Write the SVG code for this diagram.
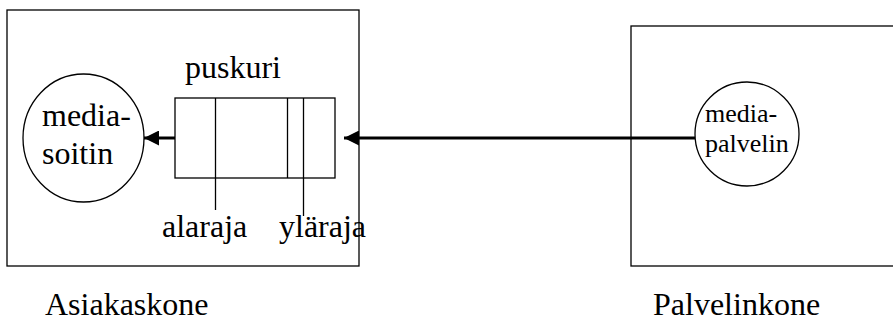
<svg xmlns="http://www.w3.org/2000/svg" width="893" height="321" viewBox="0 0 893 321">
  <style>
    .box { fill: none; stroke: #000; stroke-width: 1.3; }
    .thin { fill: none; stroke: #000; stroke-width: 1.3; }
    .flow { fill: none; stroke: #000; stroke-width: 3; }
    text { font-family: "Liberation Serif", "Times New Roman", serif; fill: #000; }
    .big { font-size: 32px; }
    .small { font-size: 26px; }
  </style>
  <defs>
    <marker id="head" viewBox="0 0 10 10" refX="10" refY="5" markerWidth="6" markerHeight="5" markerUnits="strokeWidth" orient="auto">
      <path d="M0,0 L10,5 L0,10 Z" fill="#000"/>
    </marker>
  </defs>
  <rect width="893" height="321" fill="#fff"/>

  <!-- client machine -->
  <g id="asiakaskone">
    <rect class="box" x="7" y="10" width="352" height="256"/>
    <text class="big" x="45" y="315">Asiakaskone</text>
  </g>

  <!-- server machine -->
  <g id="palvelinkone">
    <rect class="box" x="631" y="26" width="280" height="240"/>
    <text class="big" x="653" y="315">Palvelinkone</text>
  </g>

  <!-- media player -->
  <g id="mediasoitin">
    <ellipse class="thin" cx="83.5" cy="138" rx="60.5" ry="64"/>
    <text class="big" x="42" y="126">media-</text>
    <text class="big" x="42" y="164">soitin</text>
  </g>

  <!-- buffer with low / high watermarks -->
  <g id="puskuri">
    <text class="big" x="185" y="78">puskuri</text>
    <rect class="thin" x="175" y="98" width="160" height="80"/>
    <line class="thin" x1="215.5" y1="98" x2="215.5" y2="210"/>
    <line class="thin" x1="287.5" y1="98" x2="287.5" y2="178"/>
    <line class="thin" x1="303.5" y1="98" x2="303.5" y2="216"/>
    <text class="big" x="162" y="237">alaraja</text>
    <text class="big" x="279" y="237">yläraja</text>
  </g>

  <!-- media server -->
  <g id="mediapalvelin">
    <ellipse class="thin" cx="747" cy="134" rx="52" ry="52"/>
    <text class="small" x="705" y="122">media-</text>
    <text class="small" x="705" y="152">palvelin</text>
  </g>

  <g id="connectors">
    <line class="flow" x1="175" y1="138" x2="144" y2="138" marker-end="url(#head)"/>
    <line class="flow" x1="695" y1="138" x2="344" y2="138" marker-end="url(#head)"/>
  </g>
</svg>
